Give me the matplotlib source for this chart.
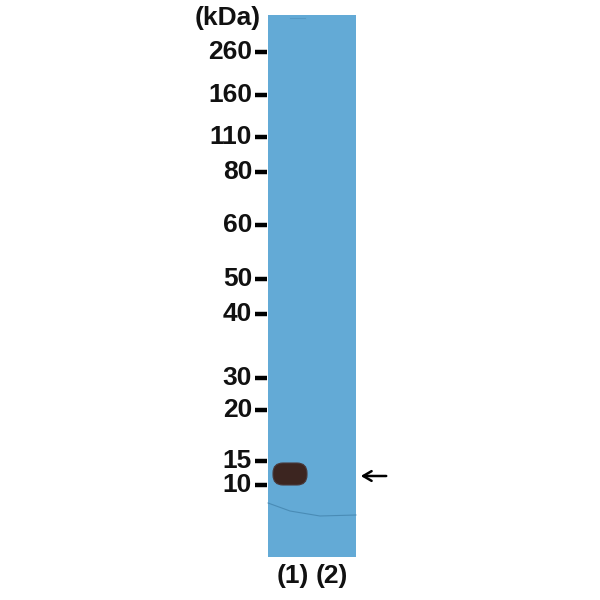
import matplotlib
matplotlib.use("Agg")
import matplotlib.pyplot as plt
from matplotlib.patches import Rectangle, FancyBboxPatch

# marker ladder (kDa) and where each one sits on the membrane (pixel rows)
marker_labels = ["260", "160", "110", "80", "60", "50", "40", "30", "20", "15", "10"]
marker_rows = [52, 95, 137, 172, 225, 279, 314, 378, 410, 461, 485]

lane_labels = ["(1)", "(2)"]
lane_centers = [293, 332]

# detected band: lane index, top row, bottom row
band_lane = 0
band_top, band_bottom = 463, 485
target_row = 476

membrane_left, membrane_right = 268, 356
membrane_top, membrane_bottom = 15, 557

plt.rcParams["font.family"] = ["Liberation Sans", "DejaVu Sans"]
FS = 19

fig = plt.figure(figsize=(6, 6), dpi=100)
ax = fig.add_axes([0, 0, 1, 1])
ax.set_xlim(0, 600)
ax.set_ylim(600, 0)
ax.axis("off")

# membrane
ax.add_patch(Rectangle((membrane_left, membrane_top),
                       membrane_right - membrane_left,
                       membrane_bottom - membrane_top,
                       facecolor="#63aad6", edgecolor="none"))
# faint artefact lines on the membrane
ax.plot([268, 290, 320, 356], [503, 511, 516, 515], color="#3f7fa8", lw=0.8, alpha=0.7)
ax.plot([290, 305], [18, 18], color="#4c8fbb", lw=0.8, alpha=0.6)

# band
lane_w = 34
bx = lane_centers[band_lane] - lane_w / 2 - 3
ax.add_patch(FancyBboxPatch((bx + 7, band_top + 7), lane_w - 14, band_bottom - band_top - 14,
                            boxstyle="round,pad=7,rounding_size=10",
                            facecolor="#3c2520", edgecolor="#4a3a3c", lw=0.8))

# marker ticks and labels
for lab, row in zip(marker_labels, marker_rows):
    ax.plot([255, 267], [row, row], color="black", lw=3.2, solid_capstyle="butt")
    ax.text(252, row, lab, ha="right", va="center", fontsize=FS,
            fontweight="bold", color="#111111")
ax.text(261, 18, "(kDa)", ha="right", va="center", fontsize=FS,
        fontweight="bold", color="#111111")

# lane labels
for lab, cx in zip(lane_labels, lane_centers):
    ax.text(cx, 576, lab, ha="center", va="center", fontsize=FS,
            fontweight="bold", color="#111111")

# arrow pointing at the band
ax.annotate("", xy=(358, target_row), xytext=(389, target_row),
            arrowprops=dict(arrowstyle="->,head_length=0.6,head_width=0.35",
                            color="black", lw=1.8))

fig.savefig("out.png", dpi=100)
